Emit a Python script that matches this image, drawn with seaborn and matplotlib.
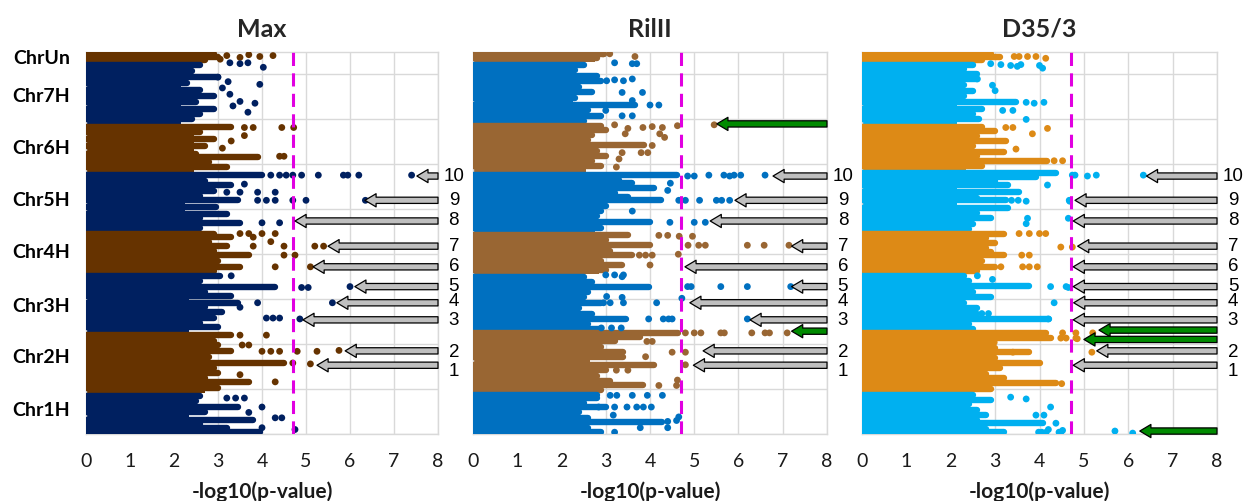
import numpy as np
import pandas as pd
import matplotlib
matplotlib.use('Agg')
import matplotlib.pyplot as plt
import matplotlib.transforms as mtransforms
import seaborn as sns

sns.set_theme(style='white')
plt.rcParams['font.family'] = ['Lato', 'DejaVu Sans']

# genome position axis, in thousands
chroms = ['Chr1H', 'Chr2H', 'Chr3H', 'Chr4H', 'Chr5H', 'Chr6H', 'Chr7H', 'ChrUn']
chrom_edges = [0, 46, 114, 178, 224, 292, 345, 414, 425]
chrom_label_y = [26.7, 85.6, 142.2, 202.2, 260, 317.8, 375.6, 417.8]
threshold = 4.7

qtl_labels = ['1', '2', '3', '4', '5', '6', '7', '8', '9', '10']
qtl_y = [76.5, 92.5, 127, 146, 164, 186, 209, 237, 260, 287]
qtl_label_y = [70, 91, 126, 147, 164, 186, 209, 237, 260, 287]

titles = ['Max', 'RilII', 'D35/3']
colors = [('#002060', '#663300'), ('#0070C0', '#996633'), ('#00B0F0', '#DD8A16')]

# ---- Max ----
p1_core = [2.35, 2.7, 2.35, 2.65, 2.25, 2.45, 2.15, 2.6]
p1_streak_y = [423, 419, 416,
               411, 404, 397, 390, 383, 376, 369, 362, 356, 350,
               342, 336, 328, 320, 312, 308, 303, 297,
               288, 281, 277, 270, 265, 260, 252, 245, 240, 235, 229,
               222, 219, 214, 209, 204, 199, 193, 186, 181,
               176, 170, 163, 158, 154, 146, 141, 136, 129, 124, 119,
               110, 104, 99, 92, 86, 79, 73, 68, 62, 58, 51,
               42, 37, 30, 24, 16, 11, 7, 2]
p1_streak_x = [2.9, 3.0, 2.7,
               2.6, 2.4, 3.0, 2.3, 2.6, 2.9, 2.5, 2.9, 2.6, 2.4,
               3.3, 2.6, 2.9, 2.7, 2.5, 3.9, 2.8, 3.2,
               4.0, 2.7, 3.3, 2.9, 2.6, 3.45, 2.95, 3.2, 2.6, 3.5, 2.6,
               2.9, 3.3, 2.8, 3.2, 2.9, 3.7, 3.0, 3.5, 2.9,
               3.05, 2.6, 4.3, 2.7, 3.3, 3.45, 2.7, 3.1, 2.9, 2.6, 3.0,
               3.3, 2.9, 3.0, 3.3, 2.8, 4.5, 2.9, 3.0, 2.7, 3.7, 3.0,
               2.6, 2.5, 3.45, 2.7, 3.8, 2.6, 3.2, 3.95]
p1_dot_x = [3.2, 3.5, 3.7, 3.95, 4.25, 3.05,
            3.27, 3.5, 3.68, 4.03, 3.0, 3.23, 3.95, 3.27, 3.5, 3.84, 3.34, 3.68, 3.1,
            3.6, 3.8, 4.45, 4.72, 3.6, 4.4, 4.5, 3.1, 3.3,
            4.2, 4.4, 4.55, 4.7, 4.9, 5.28, 5.85, 5.95, 6.2, 7.4, 3.6, 3.2, 3.5, 3.9, 4.3,
            3.9, 4.1, 4.3, 4.7, 5.0, 6.35, 4.0, 4.4,
            3.5, 3.7, 4.0, 4.3, 3.8, 3.8, 4.5, 5.2, 5.4, 4.5, 4.75, 4.3, 5.1, 4.2,
            4.9, 5.05, 6.0, 3.9, 5.6, 4.1, 4.25, 4.4, 4.86, 3.3, 3.5,
            3.5, 4.1, 3.55, 3.7, 4.0, 4.2, 4.4, 4.8, 5.25, 5.75, 4.7, 5.1, 4.3, 3.5,
            3.2, 3.4, 3.6, 4.0, 4.3, 4.45, 4.0, 4.75, 3.7]
p1_dot_y = [421, 419, 422, 420, 421, 417,
            413, 412, 413, 408, 397, 392, 389, 378, 370, 368, 365, 358, 385,
            341, 341, 341, 341, 332, 309, 309, 318, 326,
            288, 288, 288, 288, 288, 288, 288, 288, 288, 288, 278, 269, 269, 269, 269,
            260, 260, 260, 260, 260, 260, 235, 235,
            223, 223, 223, 223, 219, 209, 209, 209, 209, 199, 199, 186, 186, 214,
            163, 163, 164, 146, 146, 129, 129, 129, 128, 176, 141,
            110, 110, 99, 99, 92, 92, 92, 92, 92, 93, 79, 78, 58, 66,
            40, 40, 40, 30, 18, 18, 7, 5, 24]
p1_tip = [5.25, 5.89, 4.93, 5.7, 6.11, 5.16, 5.5, 4.75, 6.34, 7.52]

# ---- RilII ----
p2_core = [2.35, 2.65, 2.25, 2.85, 2.75, 2.55, 2.25, 2.75]
p2_streak_y = [423, 418,
               411, 405, 398, 393, 386, 380, 374, 366, 360, 354, 348,
               343, 338, 333, 327, 321, 315, 309, 304, 298,
               288, 283, 279, 274, 268, 264, 260, 254, 248, 242, 235.5, 229,
               221, 216, 210, 204, 199, 193, 188, 182,
               175, 169, 164, 158, 152, 146, 140, 134, 128, 122, 117,
               112.5, 108, 103, 97, 91, 86, 77, 71, 65, 59, 54, 49,
               43, 40, 34, 30, 24, 18, 13, 7, 2]
p2_streak_x = [2.95, 2.8,
               2.5, 2.3, 2.8, 2.9, 2.4, 2.7, 2.3, 3.66, 2.6, 2.9, 2.5,
               2.9, 3.0, 2.7, 2.6, 3.87, 2.8, 3.0, 2.7, 2.9,
               4.6, 3.3, 3.6, 4.1, 3.2, 3.5, 4.25, 3.0, 2.9, 2.8, 4.0, 2.9,
               3.5, 3.0, 4.0, 3.1, 3.6, 2.9, 3.37, 3.0,
               2.5, 2.7, 3.98, 2.6, 2.5, 2.9, 2.4, 2.7, 3.46, 2.6, 2.9,
               4.64, 3.78, 3.2, 2.9, 3.4, 3.4, 4.08, 3.0, 2.8, 3.1, 3.84, 2.9,
               2.8, 2.8, 2.5, 3.0, 2.4, 2.6, 4.28, 2.6, 2.9]
p2_dot_x = [2.94, 3.09, 3.66,
            3.2, 3.6, 3.7, 3.02, 3.2, 3.4, 3.6, 3.37, 3.83, 3.6, 4.0, 4.2, 3.0, 3.37, 3.6,
            3.2, 3.5, 3.84, 4.05, 4.28, 4.62, 5.45, 3.44, 4.22, 4.33, 4.05, 3.37, 3.8, 3.95, 3.3, 3.24,
            4.85, 5.0, 5.33, 5.67, 5.8, 5.9, 6.05, 6.6, 4.46, 4.4, 4.65, 4.8, 5.12, 5.5, 5.62, 5.8,
            4.45, 5.0, 5.25, 3.6,
            4.2, 4.4, 4.66, 4.96, 4.86, 5.1, 5.25, 6.2, 6.58, 7.14, 3.76, 3.9, 4.05, 4.64, 4.0,
            3.0, 3.2, 3.4, 3.37, 4.85, 4.93, 5.6, 6.2, 7.18, 3.02, 3.37, 2.95, 3.1, 3.4, 4.15, 4.72,
            3.97, 4.3, 4.42, 4.5, 6.2, 2.9, 3.13, 3.35,
            4.8, 5.0, 5.15, 5.6, 5.68, 6.3, 6.6, 6.7, 7.1, 3.93, 4.05, 4.5, 4.8, 3.9, 4.8, 3.24, 3.5,
            4.2, 4.6, 4.62,
            3.1, 3.25, 3.6, 3.94, 4.28, 2.84, 3.2, 3.48, 3.7, 3.85, 4.03, 3.17, 4.4, 4.6, 3.78, 4.4,
            3.2, 4.65]
p2_dot_y = [423, 423, 420,
            413, 412, 412, 393, 394, 393, 395, 380, 380, 371, 366, 366, 360, 354, 354,
            344, 340, 341, 342, 341, 343, 344, 334, 334, 330, 321, 313, 313, 313, 306, 297,
            287, 287, 288, 288, 287, 288, 288, 288, 279, 271, 260, 260, 260, 260, 260, 260,
            235.5, 235.5, 235.5, 248,
            221, 221, 220, 220, 210, 210, 210, 210, 210, 210, 199, 199, 199, 200, 188,
            177, 177, 177, 175, 164, 164, 164, 164, 164, 153, 152, 146, 146, 146, 146, 151,
            128, 128, 128, 128, 128, 118, 118, 118,
            112.5, 112.5, 112.5, 112.5, 112.5, 112.5, 112.5, 112.5, 112.5, 103, 103, 91, 91, 86, 77, 71, 71,
            54, 54, 60,
            43, 43, 43, 43, 43, 30, 30, 30, 30, 30, 30, 21, 14, 15, 7, 7,
            2, 19]
p2_tip = [4.98, 5.2, 6.26, 4.9, 7.2, 4.79, 7.2, 5.36, 5.92, 6.78]
p2_green_y = [345, 114.4]
p2_green_tip = [5.51, 7.2]

# ---- D35/3 ----
p3_core = [2.25, 2.45, 2.05, 2.55, 2.15, 2.35, 2.15, 2.7]
p3_streak_y = [423, 419, 416,
               411, 406, 400, 395, 388, 382, 376, 369, 362, 356, 350,
               342, 337, 332, 326, 320, 314, 309, 304, 298,
               290, 285.6, 281, 276.7, 269, 263, 260, 251, 246, 240, 234, 228,
               222, 218, 212, 207, 202, 199, 192, 186, 181,
               176, 170, 164.4, 158, 152, 146, 140, 134, 127.8, 122, 117,
               112.5, 106.7, 101, 96, 91, 85, 79, 73, 67, 62, 56.7, 50,
               43, 38, 33, 27, 21, 16, 12, 6, 2]
p3_streak_x = [2.9, 3.1, 2.7,
               2.5, 2.3, 2.6, 2.6, 2.3, 2.5, 2.3, 3.47, 2.7, 2.5, 2.64,
               2.7, 3.0, 2.6, 3.24, 2.5, 3.2, 2.6, 4.18, 2.7,
               4.37, 3.92, 3.0, 3.3, 3.54, 2.6, 3.24, 3.3, 2.6, 2.9, 2.5, 2.4,
               3.2, 2.8, 3.0, 2.8, 2.9, 3.2, 2.7, 3.0, 2.6,
               2.3, 2.4, 3.77, 2.5, 2.9, 2.3, 2.6, 2.6, 4.22, 2.4, 2.5,
               4.14, 4.25, 2.9, 3.0, 3.77, 3.0, 4.0, 3.1, 2.8, 3.2, 4.37, 2.9,
               2.5, 2.9, 2.4, 2.6, 2.8, 2.6, 4.07, 2.8, 3.2]
p3_dot_x = [3.43, 3.54, 3.73, 3.92, 4.14,
            2.9, 3.13, 3.35, 3.5, 3.58, 4.07, 4.0, 2.6, 2.94, 3.0, 3.7, 3.88, 4.1, 3.17, 3.4, 3.7,
            3.24, 3.4, 4.18, 3.84, 3.47, 4.33, 4.52,
            4.74, 4.8, 5.08, 5.28, 6.34, 4.18, 4.67, 3.37, 3.52, 3.7, 3.73, 3.7, 4.68, 4.65,
            3.54, 3.77, 4.0, 4.14, 4.48, 4.74, 3.6, 3.77, 3.62, 3.77, 3.95, 3.13,
            2.6, 2.94, 4.25, 4.6, 4.33, 2.56, 2.7, 2.85, 4.2, 4.65,
            4.52, 4.82, 5.2, 4.48, 4.6, 4.82, 4.85, 2.98, 5.18, 4.5, 3.4,
            3.35, 3.7, 4.25, 3.92, 4.1, 4.37, 3.98, 4.15, 4.48, 4.52, 5.7, 6.1, 4.05, 4.2, 4.44]
p3_dot_y = [420, 420, 420, 420, 418,
            412, 411, 410, 409, 411, 407, 410, 395, 388, 382, 369, 368, 369, 360, 360, 350,
            341, 341, 340, 334, 317, 304, 304,
            288, 288, 287, 288, 288, 277, 260, 260, 260, 259, 240, 234, 259, 240,
            223, 223, 223, 223, 208, 208, 199, 199, 186, 186, 186, 186,
            176, 172, 164, 164, 146, 134, 134, 134, 128, 163,
            112.5, 112.5, 112.5, 106.7, 106.7, 106.7, 106, 102, 91, 56, 91,
            41, 39, 30, 21, 21, 12, 2, 2, 2, 4, 3.3, 1, 2, 5, 2]
p3_tip = [4.76, 5.29, 4.76, 4.77, 4.76, 4.76, 4.86, 4.76, 4.8, 6.41]
p3_green_y = [115.6, 105.2, 3.3]
p3_green_tip = [5.34, 5.0, 6.26]

panels = [
    (p1_core, p1_streak_y, p1_streak_x, p1_dot_x, p1_dot_y, p1_tip, [], []),
    (p2_core, p2_streak_y, p2_streak_x, p2_dot_x, p2_dot_y, p2_tip, p2_green_y, p2_green_tip),
    (p3_core, p3_streak_y, p3_streak_x, p3_dot_x, p3_dot_y, p3_tip, p3_green_y, p3_green_tip),
]


def band_color(y, pair):
    idx = np.clip(np.searchsorted(chrom_edges, y, side='right') - 1, 0, len(chroms) - 1)
    return [pair[i % 2] for i in np.atleast_1d(idx)]


def block_arrow(ax, y, tip, fc):
    ax.annotate('', xy=(tip, y), xytext=(8, y),
                arrowprops=dict(arrowstyle='simple,head_width=0.95,head_length=0.8,tail_width=0.45',
                                fc=fc, ec='black', lw=0.9, shrinkA=0, shrinkB=0,
                                mutation_scale=10),
                annotation_clip=False, zorder=8)


fig = plt.figure(figsize=(12.43, 5.01), dpi=100)
lefts = [86, 473, 862]
widths = [352, 354, 355]
axes = [fig.add_axes([l / 1243, 67 / 501, w / 1243, 382 / 501]) for l, w in zip(lefts, widths)]

for k, (ax, panel) in enumerate(zip(axes, panels)):
    core, sy, sx, dx, dy, tips, gy, gtips = panel
    pair = colors[k]

    # dense block of each chromosome
    lo = np.array(chrom_edges[:-1])
    hi = np.array(chrom_edges[1:])
    ax.barh((lo + hi) / 2, core, height=hi - lo, color=[pair[i % 2] for i in range(8)],
            linewidth=0, zorder=2)
    # runs of overlapping markers
    ax.hlines(sy, 0, sx, colors=band_color(sy, pair), linewidth=4.6, capstyle='round', zorder=3)
    # single markers
    dots = pd.DataFrame({'x': dx, 'y': dy})
    dots['col'] = band_color(dots['y'].values, pair)
    sns.scatterplot(data=dots, x='x', y='y', hue='col', palette={c: c for c in pair},
                    s=24, linewidth=0, legend=False, ax=ax, zorder=4)

    ax.axvline(threshold, color='#E100E1', lw=2.2, ls=(0, (4.3, 2.4)), zorder=6)

    for y, t in zip(qtl_y, tips):
        block_arrow(ax, y, t, '#BFBFBF')
    for lab, y in zip(qtl_labels, qtl_label_y):
        ax.text(8.36, y, lab, ha='center', va='center', fontsize=13.5,
                family=['Liberation Sans', 'DejaVu Sans'], color='black', clip_on=False)
    for y, t in zip(gy, gtips):
        block_arrow(ax, y, t, '#008A00')

    ax.set_xlim(0, 8)
    ax.set_ylim(0, 425)
    ax.set_xticks(range(9))
    ax.set_yticks(range(0, 401, 50))
    ax.grid(True, color='#D9D9D9', lw=1)
    ax.set_axisbelow(True)
    for sp in ax.spines.values():
        sp.set_color('#D9D9D9')
        sp.set_linewidth(1)
    ax.tick_params(axis='x', length=0, pad=14, labelsize=14, labelcolor='#1A1A1A')
    ax.set_xlabel('-log10(p-value)', fontsize=15, fontweight='bold', labelpad=8, color='#1A1A1A')
    ax.set_ylabel('')
    ax.set_title(titles[k], fontsize=18, fontweight='bold', pad=11)
    ax.tick_params(axis='y', length=0, labelleft=False)
    if k == 0:
        trans = mtransforms.blended_transform_factory(ax.transAxes, ax.transData)
        for name, y in zip(chroms, chrom_label_y):
            ax.text(-0.045, y, name, transform=trans, ha='right', va='center',
                    fontsize=14, fontweight='bold', color='black')

fig.savefig('out.png', dpi=100)
